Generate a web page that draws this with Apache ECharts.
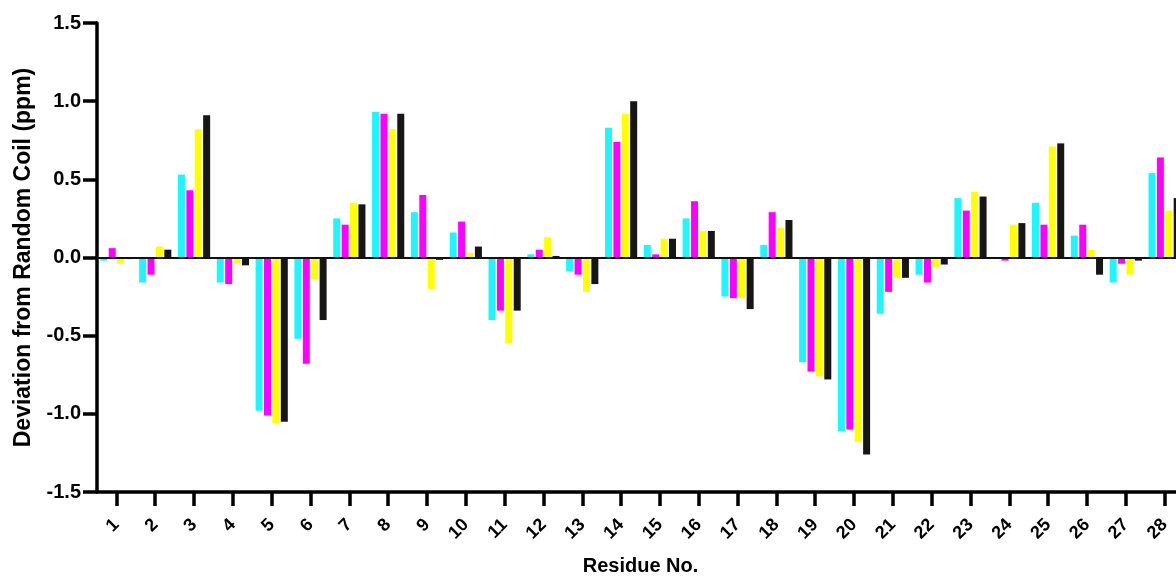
<!DOCTYPE html>
<html>
<head>
<meta charset="utf-8">
<script src="https://cdn.jsdelivr.net/npm/echarts@6/dist/echarts.min.js"></script>
<style>
html,body{margin:0;padding:0;background:#fff;}
#chart{width:1176px;height:578px;}
</style>
</head>
<body>
<div id="chart"></div>
<script>
const residues = ['1','2','3','4','5','6','7','8','9','10','11','12','13','14','15','16','17','18','19','20','21','22','23','24','25','26','27','28'];
const yTicks = [-1.5, -1.0, -0.5, 0.0, 0.5, 1.0, 1.5];
const seriesCyan    = [-0.02,-0.16,0.53,-0.16,-0.98,-0.52,0.25,0.93,0.29,0.16,-0.40,0.02,-0.09,0.83,0.08,0.25,-0.25,0.08,-0.67,-1.11,-0.36,-0.11,0.38,0.00,0.35,0.14,-0.16,0.54];
const seriesMagenta = [0.06,-0.11,0.43,-0.17,-1.01,-0.68,0.21,0.92,0.40,0.23,-0.34,0.05,-0.11,0.74,0.02,0.36,-0.26,0.29,-0.73,-1.10,-0.22,-0.16,0.30,-0.02,0.21,0.21,-0.04,0.64];
const seriesYellow  = [-0.04,0.07,0.82,-0.04,-1.06,-0.14,0.35,0.82,-0.20,0.03,-0.55,0.13,-0.22,0.92,0.12,0.17,-0.26,0.19,-0.76,-1.18,-0.13,-0.06,0.42,0.21,0.71,0.05,-0.11,0.30];
const seriesBlack   = [-0.01,0.05,0.91,-0.05,-1.05,-0.40,0.34,0.92,-0.015,0.07,-0.34,0.01,-0.17,1.00,0.12,0.17,-0.33,0.24,-0.78,-1.26,-0.13,-0.045,0.39,0.22,0.73,-0.11,-0.02,0.38];
const seriesColors = ['#1ef6ff','#ff00ff','#ffff00','#161616'];

const font = 'Liberation Sans, Arial, Helvetica, sans-serif';
const chart = echarts.init(document.getElementById('chart'));

function bar(data, color, withZero) {
  const s = {
    type: 'bar', data: data, barWidth: 7, barGap: '20%',
    itemStyle: { color: color }, silent: true, animation: false
  };
  if (withZero) {
    s.markLine = {
      silent: true, symbol: 'none', label: { show: false },
      lineStyle: { color: '#111', width: 2, type: 'solid' },
      data: [{ yAxis: 0 }], animation: false
    };
  }
  return s;
}

chart.setOption({
  animation: false,
  backgroundColor: '#ffffff',
  grid: { left: 97, right: -8, top: 23, bottom: 86, containLabel: false, outerBoundsMode: 'none' },
  xAxis: {
    type: 'category', data: residues, boundaryGap: true,
    axisLine: { onZero: false, lineStyle: { color: '#000', width: 3.5 } },
    axisTick: { show: true, alignWithLabel: true, length: 14, lineStyle: { color: '#000', width: 3.5 } },
    axisLabel: { rotate: 45, margin: 30, color: '#000', fontWeight: 'bold', fontSize: 18, fontFamily: font, interval: 0 },
    name: 'Residue No.', nameLocation: 'middle', nameGap: 64,
    nameTextStyle: { color: '#000', fontWeight: 'bold', fontSize: 20, fontFamily: font },
    splitLine: { show: false }
  },
  yAxis: {
    type: 'value', min: yTicks[0], max: yTicks[yTicks.length - 1], interval: 0.5,
    axisLine: { show: true, lineStyle: { color: '#000', width: 3.5 } },
    axisTick: { show: true, length: 14, lineStyle: { color: '#000', width: 3.5 } },
    axisLabel: { margin: 16, color: '#000', fontWeight: 'bold', fontSize: 20, fontFamily: font,
      formatter: v => v.toFixed(1) },
    splitLine: { show: false },
    name: 'Deviation from Random Coil (ppm)', nameLocation: 'middle', nameGap: 62,
    nameTextStyle: { color: '#000', fontWeight: 'bold', fontSize: 23, fontFamily: font }
  },
  series: [
    bar(seriesCyan, seriesColors[0], true),
    bar(seriesMagenta, seriesColors[1], false),
    bar(seriesYellow, seriesColors[2], false),
    bar(seriesBlack, seriesColors[3], false)
  ]
});
</script>
</body>
</html>
